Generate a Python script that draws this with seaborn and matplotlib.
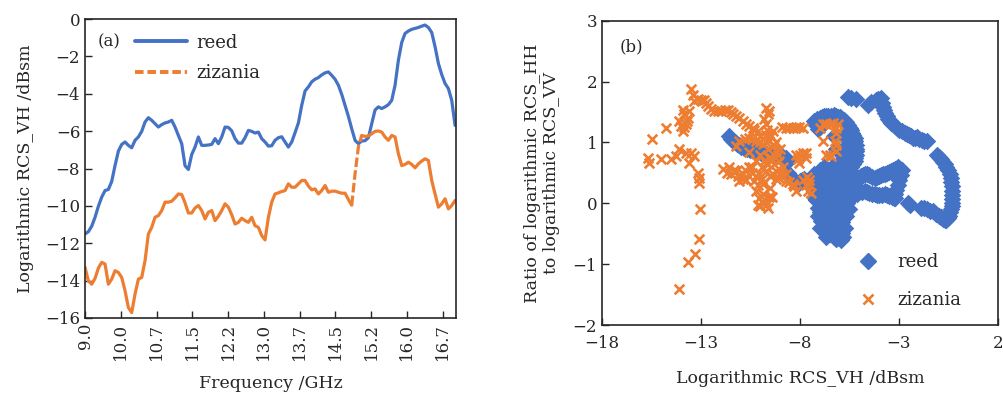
import numpy as np
import matplotlib
matplotlib.use("Agg")
import matplotlib.pyplot as plt
from matplotlib.lines import Line2D
import seaborn as sns

# ---- panel (a): RCS_VH vs frequency ----
freq_ticks = [9.0, 9.75, 10.5, 11.25, 12.0, 12.75, 13.5, 14.25, 15.0, 15.75, 16.5]
freq_labels = ["9.0", "10.0", "10.7", "11.5", "12.2", "13.0", "13.7", "14.5", "15.2", "16.0", "16.7"]

reed_vh = [
    -11.50, -11.38, -11.09, -10.61, -10.02, -9.53, -9.18, -9.12, -8.69, -7.84,
    -7.07, -6.71, -6.58, -6.76, -6.89, -6.49, -6.31, -6.01, -5.51, -5.28,
    -5.42, -5.60, -5.78, -5.65, -5.56, -5.51, -5.42, -5.78, -6.23, -6.67,
    -7.85, -8.05, -7.25, -6.85, -6.31, -6.76, -6.76, -6.74, -6.71, -6.40,
    -6.67, -6.31, -5.78, -5.80, -5.98, -6.40, -6.64, -6.64, -6.35, -5.96,
    -6.01, -6.10, -6.05, -6.40, -6.58, -6.80, -6.78, -6.49, -6.35, -6.30,
    -6.58, -6.85, -6.58, -6.08, -5.56, -4.62, -3.85, -3.63, -3.36, -3.22,
    -3.13, -2.99, -2.88, -2.83, -3.01, -3.22, -3.54, -4.03, -4.62, -5.21,
    -5.87, -6.49, -6.67, -6.53, -6.51, -6.35, -5.60, -4.87, -4.70, -4.79,
    -4.70, -4.58, -4.35, -3.54, -2.20, -1.25, -0.77, -0.64, -0.55, -0.50,
    -0.45, -0.38, -0.32, -0.45, -0.72, -1.48, -2.38, -2.97, -3.45, -3.72,
    -4.35, -5.69,
]
zizania_vh = [
    -13.29, -14.01, -14.19, -13.88, -13.33, -13.02, -13.11, -14.19, -13.92, -13.47,
    -13.56, -13.83, -14.54, -15.44, -15.71, -14.72, -13.92, -13.83, -12.93, -11.50,
    -11.15, -10.61, -10.52, -10.25, -9.80, -9.80, -9.75, -9.57, -9.36, -9.39,
    -9.84, -10.38, -10.38, -10.11, -9.98, -10.25, -10.70, -10.34, -10.25, -10.79,
    -10.55, -10.25, -9.89, -10.07, -10.47, -10.97, -10.88, -10.66, -10.79, -10.88,
    -10.61, -11.06, -11.15, -11.59, -11.82, -10.61, -9.80, -9.36, -9.30, -9.23,
    -9.18, -8.82, -9.00, -9.00, -8.82, -8.64, -8.64, -8.94, -9.14, -9.09,
    -9.36, -9.18, -8.91, -9.27, -9.21, -9.21, -9.27, -9.32, -9.32, -9.66,
    -9.96, -8.28, -6.85, -6.23, -6.28, -6.26, -6.14, -6.01, -5.99, -6.05,
    -6.31, -6.49, -6.23, -6.31, -7.21, -7.84, -7.78, -7.66, -7.78, -7.96,
    -7.75, -7.60, -7.48, -7.57, -8.64, -9.36, -10.07, -9.89, -9.62, -10.16,
    -9.98, -9.71,
]
freq = np.linspace(9.0, 16.76, len(reed_vh))

# ---- panel (b): ratio HH/VV vs RCS_VH ----
reed_x = [
    # diagonal on the left
    -11.6, -11.5, -11.4, -11.3, -11.2, -11.1, -11.0, -10.85, -10.7, -10.55, -10.4,
    -10.25, -10.1, -9.95, -9.8, -9.65, -9.5, -9.35, -9.2, -9.05, -8.9, -8.8, -8.7, -8.6,
    -8.6, -8.5, -8.4, -8.3, -8.1, -8.0, -7.9, -7.8, -7.7, -7.6, -7.5, -7.4, -7.35,
    # upper ring
    -7.27, -7.15, -7.0, -6.9, -6.8, -6.7, -6.59, -6.45, -6.3, -6.2, -6.1, -6.0, -5.92,
    -5.8, -5.7, -5.6, -5.49, -5.42, -5.35, -5.3, -5.24, -5.2, -5.18, -5.17, -5.16,
    -5.18, -5.2, -5.24, -5.3, -5.4, -5.5, -5.58, -7.1, -7.2, -7.0, -6.9, -5.75, -5.65,
    -5.58, -5.65, -5.75, -5.85, -5.92, -6.0, -6.2, -6.3,
    # main blob
    -7.27, -7.27, -7.1, -6.93, -6.59, -6.09, -5.83, -5.75, -6.25, -6.42, -6.76, -6.42,
    -6.09, -6.59, -6.93, -5.92, -5.75, -6.25, -6.76, -6.25, -5.58, -7.6, -7.0, -7.0,
    -6.8, -6.6, -6.6, -6.0, -6.0, -6.3, -5.9, -5.6, -5.5, -6.8, -6.4, -6.1, -7.1,
    -6.62, -6.11, -5.86, -5.95, -6.8, -7.2, -7.2, -7.1, -7.0, -6.8, -6.7, -6.5, -6.5,
    -6.2, -6.2, -6.1, -5.9, -5.7, -5.65, -5.8, -5.7, -5.8, -5.5, -6.5, -6.4, -6.9,
    -6.7, -6.3, -6.15, -5.95, -6.6, -7.0, -6.9, -7.3, -5.95, -6.0, -6.4, -6.7, -6.0,
    -6.45, -6.3, -6.2,
    # two arms to the right
    -5.3, -5.15, -5.07, -4.98, -4.9, -4.82, -4.73, -4.62, -4.5, -4.38, -4.23, -4.12,
    -4.0, -3.9, -3.81, -3.7, -3.6, -3.5, -3.38, -3.3, -3.2, -3.12, -3.05, -2.95, -2.85,
    -2.9, -3.0, -3.07, -3.15, -3.2, -3.26,
    -5.4, -5.24, -5.12, -5.0, -4.87, -4.73, -4.62, -4.5, -4.37, -4.23, -4.12, -4.0,
    -3.86, -3.72, -3.6, -3.5, -3.36, -3.22,
    -2.55, -2.42, -1.9, -1.75, -1.6, -1.45, -1.3, -1.15, -1.0, -0.88,
    # upper arc
    -5.6, -5.4, -5.18, -4.59, -4.4, -4.17, -4.05, -3.92, -3.85, -3.8, -3.76, -3.72,
    -3.63, -3.55, -3.46, -3.38, -3.3, -3.22, -3.1, -3.0, -2.85, -2.71, -2.6, -2.5,
    -2.4, -2.3, -2.2, -2.1, -1.97, -1.85, -1.72, -1.6,
    # right loop
    -1.1, -1.0, -0.9, -0.8, -0.7, -0.6, -0.5, -0.44, -0.38, -0.35, -0.32, -0.31, -0.3,
    -0.3, -0.3, -0.32, -0.35, -0.4, -0.45, -0.52, -0.6, -0.7, -0.8, -0.9,
]
reed_ratio = [
    1.10, 1.06, 1.02, 1.00, 0.98, 0.95, 0.93, 0.91, 0.90, 0.88, 0.87,
    0.85, 0.84, 0.83, 0.82, 0.81, 0.80, 0.79, 0.78, 0.77, 0.77, 0.75, 0.74, 0.70,
    0.50, 0.45, 0.42, 0.38, 0.31, 0.36, 0.38, 0.40, 0.36, 0.33, 0.32, 0.30, 0.35,
    1.35, 1.38, 1.40, 1.42, 1.43, 1.44, 1.43, 1.44, 1.45, 1.44, 1.42, 1.41, 1.40,
    1.37, 1.33, 1.28, 1.24, 1.20, 1.15, 1.12, 1.08, 1.02, 0.95, 0.90, 0.86,
    0.80, 0.75, 0.69, 0.65, 0.60, 0.57, 0.53, 1.22, 1.28, 1.25, 1.28, 1.13, 1.05,
    0.97, 0.88, 0.80, 0.72, 0.64, 0.60, 0.90, 1.10,
    0.48, 0.20, -0.07, -0.29, -0.40, -0.45, -0.56, -0.40, -0.29, -0.13, 0.09, 0.20,
    0.37, 0.37, 0.37, 0.15, -0.02, 0.04, 0.48, 0.48, 0.42, 0.31, 0.15, -0.15,
    -0.10, 0.00, 0.20, 0.10, -0.20, -0.50, 0.30, 0.15, -0.10, 0.60, 0.60, 0.55, 0.30,
    -0.38, -0.57, -0.49, -0.60, -0.25, 0.35, 0.05, -0.20, -0.40, -0.45, -0.30, -0.25, -0.50,
    -0.45, -0.15, -0.30, -0.30, -0.20, 0.00, 0.10, 0.30, 0.45, 0.30, 0.10, -0.02, 0.25,
    0.25, 0.30, 0.22, 0.45, 0.55, 0.55, -0.05, 0.10, -0.10, -0.45, -0.38, -0.55, -0.55,
    -0.48, -0.55, -0.58,
    0.40, 0.44, 0.42, 0.44, 0.45, 0.47, 0.48, 0.48, 0.47, 0.44, 0.42, 0.43,
    0.45, 0.46, 0.48, 0.49, 0.50, 0.52, 0.53, 0.55, 0.57, 0.58, 0.59, 0.57, 0.55,
    0.47, 0.38, 0.30, 0.22, 0.15, 0.09,
    0.12, 0.15, 0.16, 0.18, 0.19, 0.20, 0.18, 0.17, 0.16, 0.15, 0.14, 0.13,
    0.14, 0.15, 0.13, 0.12, 0.10, 0.09,
    0.01, -0.02, -0.07, -0.08, -0.10, -0.12, -0.13, -0.17, -0.20, -0.23,
    1.75, 1.73, 1.71, 1.62, 1.66, 1.70, 1.72, 1.73, 1.65, 1.58, 1.54, 1.49,
    1.43, 1.38, 1.35, 1.32, 1.30, 1.27, 1.23, 1.20, 1.18, 1.16, 1.14, 1.12,
    1.10, 1.08, 1.08, 1.09, 1.06, 1.04, 1.03, 1.02,
    0.80, 0.76, 0.72, 0.68, 0.64, 0.60, 0.55, 0.48, 0.42, 0.35, 0.28, 0.21, 0.14,
    0.07, 0.00, -0.05, -0.10, -0.15, -0.20, -0.24, -0.28, -0.27, -0.25, -0.23,
]

zizania_x = [
    -13.51, -13.4, -13.17, -13.34, -13.0, -12.84, -12.75, -12.67, -12.5, -12.33,
    -12.15, -12.0, -11.8, -11.65, -11.5, -11.4, -11.25, -11.06,
    -13.93, -13.85, -13.68, -13.72, -13.76, -13.85, -13.93, -14.0, -14.1, -13.6,
    -14.78, -15.45, -15.7, -15.62,
    -15.03, -14.52, -14.27, -14.1, -13.76, -13.51, -13.34, -13.6, -13.17, -13.09,
    -13.12, -13.05, -13.12, -13.29, -13.68, -14.1,
    -9.71, -9.63, -9.8, -9.55, -10.73, -10.39, -10.14, -10.56, -11.06, -11.23,
    -10.22, -9.88, -9.55, -9.38, -9.21, -9.46, -9.04, -8.87, -8.7, -9.04,
    -9.38, -9.71, -10.05, -10.3, -10.22, -10.05, -9.71, -10.14, -11.91, -11.57,
    -11.23, -10.9, -11.06, -10.73, -10.56, -11.48, -8.7, -8.36, -8.03, -7.86,
    -8.2, -7.86, -7.69, -8.03, -8.7, -8.36, -8.2, -9.71, -9.55, -9.21,
    -9.88, -9.71, -7.6, -7.52, -7.86, -7.01, -6.68, -6.34, -6.09, -6.17,
    -6.25, -6.17, -6.42, -6.68, -6.84, -7.63, -7.46, -8.3, -10.2, -10.0,
    -9.9, -9.5, -9.4, -9.6, -10.6, -10.0, -9.2, -9.0, -8.9, -9.6, -10.4,
    -10.9, -10.6, -10.3, -10.4, -10.8, -10.0, -9.7, -9.45, -9.3, -9.1, -9.3,
    -9.6, -9.8, -9.5, -9.2, -8.95, -9.9, -10.2, -10.4, -10.1, -9.85, -9.55,
    -9.9, -10.0, -11.7, -11.35, -11.15, -10.8, -10.9, -8.55, -8.2, -9.7, -9.65,
    -8.55, -8.0, -8.1, -7.7, -6.85, -6.5, -6.2, -6.2, -6.5, -7.7, -7.55,
]
zizania_ratio = [
    1.87, 1.78, 1.71, 1.68, 1.70, 1.69, 1.64, 1.60, 1.55, 1.51,
    1.51, 1.51, 1.53, 1.54, 1.50, 1.46, 1.43, 1.40,
    1.54, 1.47, 1.40, 1.35, 1.30, 1.25, 1.19, 1.27, 1.35, 1.51,
    1.24, 1.05, 0.75, 0.67,
    0.72, 0.72, 0.78, 0.89, 0.83, 0.83, 0.78, 0.67, 0.50, 0.42,
    0.34, -0.09, -0.59, -0.84, -0.97, -1.41,
    1.57, 1.46, 1.38, 1.52, 1.30, 1.24, 1.19, 1.08, 1.02, 0.94,
    1.02, 0.97, 1.02, 1.19, 0.86, 0.75, 0.69, 0.59, 0.48, 0.42,
    0.48, 0.53, 0.48, 0.37, 0.20, 0.09, -0.02, -0.02, 0.56, 0.59,
    0.53, 0.48, 0.37, 0.39, 0.59, 0.48, 1.24, 1.24, 1.25, 1.24,
    0.80, 0.83, 0.75, 0.67, 0.37, 0.31, 0.20, 1.13, 0.75, 0.53,
    0.31, 0.04, 0.20, 0.31, 0.39, 1.24, 1.30, 1.32, 1.30, 1.16,
    1.02, 0.86, 0.78, 0.80, 1.02, 0.44, 0.17, 0.28, 0.70, 0.80,
    0.60, 0.25, 0.10, -0.08, 0.85, 1.10, 1.00, 0.90, 1.25, 0.90, 0.60,
    1.35, 1.27, 1.20, 1.05, 1.05, 1.00, 1.00, 1.10, 0.95, 0.80, 0.65,
    0.65, 0.70, 0.45, 0.40, 0.50, 0.40, 0.45, 0.50, 0.30, 0.15, 0.10,
    0.02, -0.05, 0.50, 0.55, 0.45, 0.55, 0.40, 1.24, 1.25, 1.30, 1.20,
    0.35, 0.80, 0.72, 0.82, 1.30, 1.31, 1.23, 0.95, 0.80, 0.30, 0.38,
]

blue = "#4472c4"
orange = "#ed7d31"

sns.set_style("ticks")
plt.rcParams["font.family"] = ["DejaVu Serif"]
plt.rcParams["xtick.direction"] = "in"
plt.rcParams["ytick.direction"] = "in"
plt.rcParams["font.size"] = 12

fig = plt.figure(figsize=(10.04, 3.97), dpi=100)
ax1 = fig.add_axes([0.0847, 0.199, 0.3695, 0.753])
ax2 = fig.add_axes([0.5996, 0.181, 0.3944, 0.767])

# (a)
sns.lineplot(x=freq, y=reed_vh, ax=ax1, color=blue, linewidth=2.3)
jump = slice(80, 84)
sns.lineplot(x=freq[:81], y=zizania_vh[:81], ax=ax1, color=orange, linewidth=2.3)
sns.lineplot(x=freq[jump], y=zizania_vh[jump], ax=ax1, color=orange, linewidth=2.3,
             linestyle=(0, (3, 1)))
sns.lineplot(x=freq[83:], y=zizania_vh[83:], ax=ax1, color=orange, linewidth=2.3)
ax1.set_xlim(9.0, 16.78)
ax1.set_ylim(-16, 0)
ax1.set_xticks(freq_ticks)
ax1.set_xticklabels(freq_labels, rotation=90)
ax1.set_yticks(range(-16, 1, 2))
ax1.set_xlabel("Frequency /GHz", fontsize=12.5, labelpad=11)
ax1.set_ylabel("Logarithmic RCS_VH /dBsm", fontsize=12.5, labelpad=8)
ax1.text(0.035, 0.925, "(a)", transform=ax1.transAxes, va="center", fontsize=12)
handles_a = [
    Line2D([], [], color=blue, lw=2.8),
    Line2D([], [], color=orange, lw=2.8, linestyle=(0, (2.2, 1))),
]
ax1.legend(handles_a, ["reed", "zizania"], loc="upper left", bbox_to_anchor=(0.09, 1.005),
           frameon=False, handlelength=2.9, handletextpad=0.5, fontsize=13,
           labelspacing=0.7)

# (b)
sns.scatterplot(x=reed_x, y=reed_ratio, ax=ax2, marker="D", s=80, color=blue,
                linewidth=0)
sns.scatterplot(x=zizania_x, y=zizania_ratio, ax=ax2, marker="x", s=48, color=orange,
                linewidth=1.9)
ax2.set_xlim(-18, 2)
ax2.set_ylim(-2, 3)
ax2.set_xticks([-18, -13, -8, -3, 2])
ax2.set_yticks([-2, -1, 0, 1, 2, 3])
ax2.set_xlabel("Logarithmic RCS_VH /dBsm", fontsize=12.5, labelpad=13)
ax2.set_ylabel("Ratio of logarithmic RCS_HH\nto logarithmic RCS_VV", fontsize=12.5,
               labelpad=9)
ax2.text(0.045, 0.915, "(b)", transform=ax2.transAxes, va="center", fontsize=12)
handles_b = [
    Line2D([], [], color=blue, marker="D", linestyle="", markersize=8.5),
    Line2D([], [], color=orange, marker="x", linestyle="", markersize=6.5, markeredgewidth=1.9),
]
ax2.legend(handles_b, ["reed", "zizania"], loc="lower left", bbox_to_anchor=(0.585, 0.0),
           frameon=False, fontsize=13, labelspacing=1.1, handletextpad=0.6)

for ax in (ax1, ax2):
    for s in ax.spines.values():
        s.set_visible(True)
        s.set_linewidth(1.2)
    ax.tick_params(length=5, width=1, top=False, right=False)
ax2.tick_params(axis="x", pad=7)

fig.savefig("out.png", dpi=100)
